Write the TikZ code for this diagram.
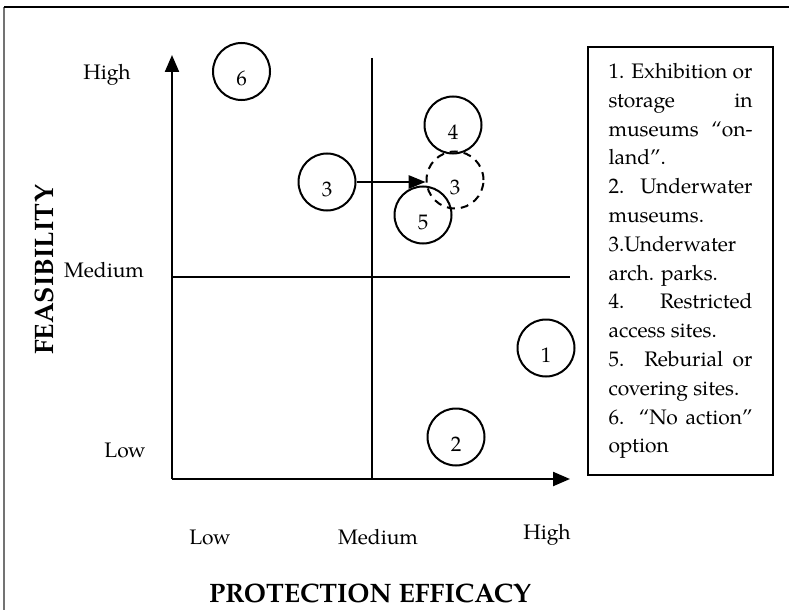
\documentclass[tikz,border=0pt]{standalone}
\usepackage{fontspec}
\setmainfont{TeX Gyre Pagella}
\usetikzlibrary{arrows.meta}
\newcommand\jline[1]{\makebox[108pt][s]{#1}}
\begin{document}
\begin{tikzpicture}[x=0.75pt,y=-0.75pt,
  every node/.style={font=\fontsize{15.75}{21.6}\selectfont, inner sep=0pt},
  numc/.style={circle, draw, line width=1.5pt, minimum size=42.75pt, text height=21pt, text depth=0pt},
  dnumc/.style={numc, dash pattern=on 6pt off 4.5pt},
  axisline/.style={line width=1.7pt, -{Triangle[length=12.75pt,width=10.5pt]}},
  divider/.style={line width=1.5pt},
  axtitle/.style={font=\fontsize{20}{24}\selectfont\bfseries}]
\useasboundingbox (0,0) rectangle (789,610);
% outer frame
\coordinate (fbl) at (4,612);
\coordinate (ftl) at (4,7);
\coordinate (ftr) at (790,7);
\draw[black!55, line width=1.5pt] (ftl) -- (fbl);
\draw[line width=1.2pt] (ftl) -- (ftr);
% axes and dividers
\coordinate (O) at (172,479);
\coordinate (ytip) at (172,55);
\coordinate (xtip) at (570,479);
\coordinate (vtop) at (372,58);
\coordinate (vbot) at (372,479);
\coordinate (hl) at (172,277);
\coordinate (hr) at (570,277);
\draw[divider] (vtop) -- (vbot);
\draw[divider] (hl) -- (hr);
\draw[axisline] (O) -- (ytip);
\draw[axisline] (O) -- (xtip);
% axis labels
\node (yhigh) at (107,75) {High};
\node (ymed) at (104,270) {Medium};
\node[anchor=east] (ylow) at (146,450) {Low};
\node (xlow) at (210,537) {Low};
\node (xmed) at (378,537) {Medium};
\node (xhigh) at (547,535) {High};
\node[axtitle] (xtitle) at (370,593) {PROTECTION EFFICACY};
\node[axtitle, rotate=90] (ytitle) at (44,270) {FEASIBILITY};
% circles
\node[numc] (c6) at (241.5,71.5) {6};
\node[numc] (c4) at (453,125) {4};
\node[numc] (c3) at (327,182) {3};
\node[dnumc] (c3d) at (455,180) {3};
\node[numc] (c5) at (423,215) {5};
\node[numc] (c1) at (546,348) {1};
\node[numc] (c2) at (456,437) {2};
\draw[line width=1.5pt, -{Triangle[length=12.75pt,width=10pt]}] (c3.east) -- (c3.east -| c3d.west);
% legend
\node[draw, line width=1pt, minimum width=138.75pt, minimum height=321pt, align=left] (legend) at (680.5,261) {%
\jline{1. Exhibition or}\\
\jline{storage in}\\
\jline{museums “on-}\\
land”.\\
\jline{2. Underwater}\\
museums.\\
3.Underwater\\
arch. parks.\\
\jline{4. Restricted}\\
access sites.\\
\jline{5. Reburial or}\\
covering sites.\\
\jline{6. “No action”}\\
option};
\end{tikzpicture}
\end{document}
